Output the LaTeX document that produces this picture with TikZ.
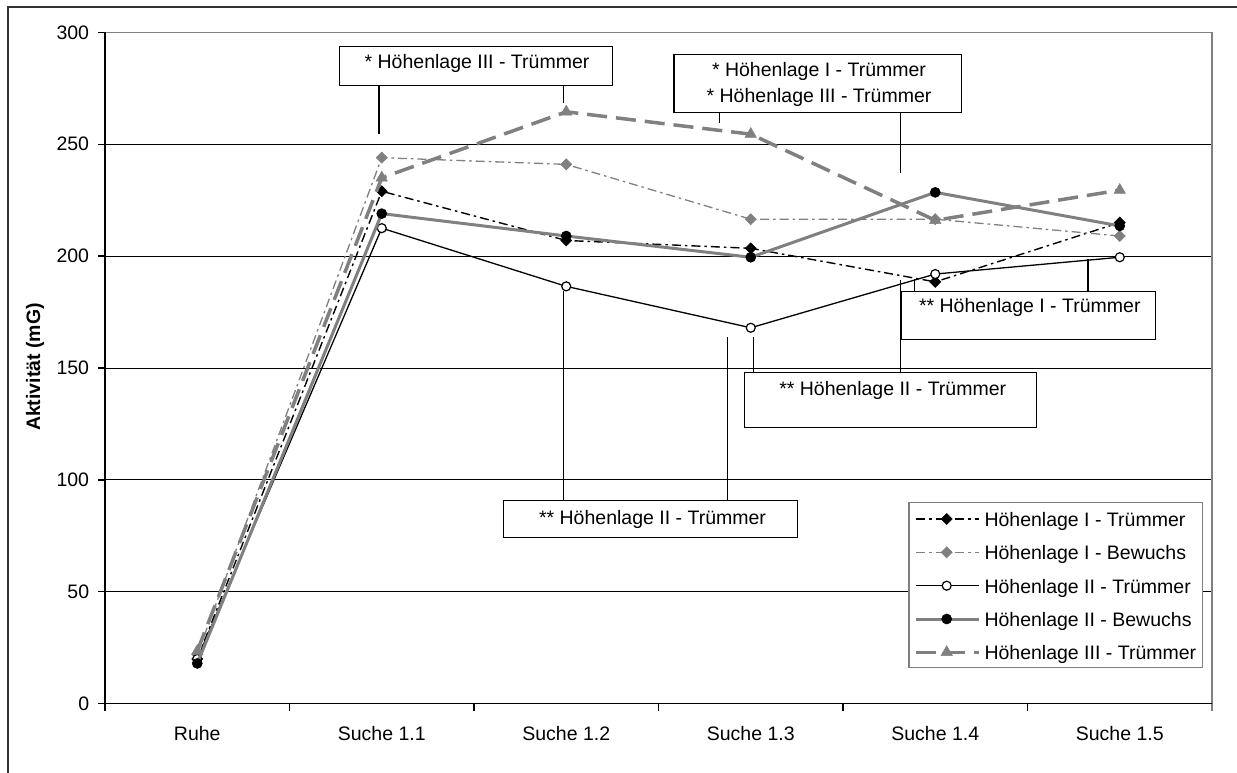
\documentclass[tikz,border=0pt]{standalone}
\usepackage{fontspec}
\setmainfont{Liberation Sans}
\usetikzlibrary{plotmarks}
\definecolor{cgray}{RGB}{128,128,128}
\definecolor{framec}{RGB}{51,51,51}
\tikzset{
  axisline/.style={black, line width=1.3pt},
  gridline/.style={black, line width=1pt},
  cbox/.style={draw=black, line width=1.3pt, fill=white, inner sep=0pt},
  leader/.style={black, line width=1.3pt},
  txt/.style={inner sep=0pt, anchor=base},
  s1/.style={black, line width=1.4pt, dash pattern=on 9pt off 4pt on 2.5pt off 4pt},
  s2/.style={cgray, line width=1.3pt, dash pattern=on 9pt off 4pt on 2.5pt off 4pt},
  s3/.style={black, line width=1.3pt},
  s4/.style={cgray, line width=3pt},
  s5/.style={cgray, line width=3.5pt, dash pattern=on 20pt off 9pt},
  m1/.style={mark=square*, mark size=3.9pt, mark options={solid, rotate=45, fill=black, draw=black, line width=0.6pt}},
  m2/.style={mark=square*, mark size=3.9pt, mark options={solid, rotate=45, fill=cgray, draw=cgray, line width=0.6pt}},
  m3/.style={mark=*, mark size=4.5pt, mark options={solid, fill=white, draw=black, line width=1.2pt}},
  m4/.style={mark=*, mark size=5pt, mark options={solid, fill=black, draw=black, line width=0.6pt}},
  m5/.style={mark=triangle*, mark size=6.5pt, mark options={solid, fill=cgray, draw=cgray, line width=0.6pt}},
}
\begin{document}
\begin{tikzpicture}[x=1pt, y=-1pt, font=\fontsize{19.5}{23}\selectfont]
\useasboundingbox (0,0) rectangle (1237,773);
\fill[white] (0,0) rectangle (1237,773);
% outer chart frame
\draw[framec, line width=1.6pt] (8,773) -- (8,7) -- (1237,7);

% data scope: y in data units (mG)
\begin{scope}[shift={(0,703.7)}, y=2.2378pt]
  \foreach \v in {50,100,150,200,250} \draw[gridline] (105,\v) -- (1212,\v);
  \draw[cgray, line width=1.3pt] (105,300) -- (1212,300) -- (1212,0) -- (1212,-3.13);
  \draw[axisline] (105,300) -- (105,0) -- (1212,0);
  \foreach \v in {0,50,...,300} \draw[axisline] (98,\v) -- (105,\v);
  \foreach \i in {0,...,5} \draw[axisline] ({105+184.5*\i},0) -- ({105+184.5*\i},-3.13);

  % series
  \draw[s1, m1] plot coordinates {(197.25,20) (381.75,229) (566.25,207) (750.75,203.5) (935.25,188.5) (1119.75,215)};
  \draw[s2, m2] plot coordinates {(197.25,22) (381.75,244) (566.25,241) (750.75,216.5) (935.25,216.5) (1119.75,209)};
  \draw[s3, m3] plot coordinates {(197.25,20) (381.75,212.5) (566.25,186.5) (750.75,168) (935.25,192) (1119.75,199.5)};
  \draw[s4, m4] plot coordinates {(197.25,18) (381.75,219) (566.25,209) (750.75,199.5) (935.25,228.5) (1119.75,213.5)};
  \draw[s5, m5] plot coordinates {(197.25,23.5) (381.75,235) (566.25,264.5) (750.75,254.5) (935.25,216) (1119.75,229.5)};
\end{scope}

% y tick labels
\foreach \v in {0,50,...,300}
  \node[inner sep=0pt, anchor=east] (yl\v) at (89.3,{703.7-2.2378*\v}) {\v};
% y axis title
\node[rotate=90, inner sep=0pt, font=\fontsize{19.5}{23}\selectfont\bfseries] (ytitle) at (35,367) {Aktivität (mG)};
% x labels
\foreach \n/\lab [count=\i from 0] in {a/Ruhe, b/Suche 1.1, c/Suche 1.2, d/Suche 1.3, e/Suche 1.4, f/Suche 1.5}
  \node[txt] (xl\n) at ({197.25+184.5*\i},740.7) {\lab};

% leader end coordinates
\coordinate (l1a) at (379,134.3);
\coordinate (l1b) at (563.3,102.7);
\coordinate (l2a) at (719.3,123.3);
\coordinate (l2b) at (900.7,173.3);
\coordinate (l3a) at (914.7,279.4);
\coordinate (l3b) at (1088,258.8);
\coordinate (l4a) at (753.8,337);
\coordinate (l4b) at (900.3,280.4);
\coordinate (l5a) at (563.3,291);
\coordinate (l5b) at (727.3,337);

% callout boxes
\node[cbox, minimum width=273pt, minimum height=39pt] (b1) at (475.8,66.2) {};
\node[cbox, minimum width=287.7pt, minimum height=58pt] (b2) at (817.85,83.3) {};
\node[cbox, minimum width=254.5pt, minimum height=48pt] (b3) at (1028.25,315.35) {};
\node[cbox, minimum width=292.2pt, minimum height=55pt] (b4) at (890.5,400.2) {};
\node[cbox, minimum width=294pt, minimum height=36.6pt] (b5) at (650.7,519) {};

\draw[leader] (b1.south -| l1a) -- (l1a);
\draw[leader] (b1.south -| l1b) -- (l1b);
\draw[leader] (b2.south -| l2a) -- (l2a);
\draw[leader] (b2.south -| l2b) -- (l2b);
\draw[leader] (b3.north -| l3a) -- (l3a);
\draw[leader] (b3.north -| l3b) -- (l3b);
\draw[leader] (b4.north -| l4a) -- (l4a);
\draw[leader] (b4.north -| l4b) -- (l4b);
\draw[leader] (b5.north -| l5a) -- (l5a);
\draw[leader] (b5.north -| l5b) -- (l5b);

\node[txt] (t1) at (477,69) {* Höhenlage III - Trümmer};
\node[txt] (t2a) at (819,76.7) {* Höhenlage I - Trümmer};
\node[txt] (t2b) at (819,102.7) {* Höhenlage III - Trümmer};
\node[txt] (t3) at (1029.8,312.3) {** Höhenlage I - Trümmer};
\node[txt] (t4) at (892.7,395.7) {** Höhenlage II - Trümmer};
\node[txt] (t5) at (652.5,524) {** Höhenlage II - Trümmer};

% legend
\node[draw=cgray, line width=1.2pt, fill=white, minimum width=293.7pt, minimum height=164.6pt, inner sep=0pt] (leg) at (1055.85,585) {};
\draw[s1] (916,519) -- (979,519);
\path[m1] plot coordinates {(946.7,519)};
\node[txt, anchor=base west] (lg1) at (984.3,526.5) {Höhenlage I - Trümmer};
\draw[s2] (916,552.3) -- (979,552.3);
\path[m2] plot coordinates {(946.7,552.3)};
\node[txt, anchor=base west] (lg2) at (984.3,559.8) {Höhenlage I - Bewuchs};
\draw[s3] (916,585.7) -- (979,585.7);
\path[m3] plot coordinates {(946.7,585.7)};
\node[txt, anchor=base west] (lg3) at (984.3,593.2) {Höhenlage II - Trümmer};
\draw[s4] (916,619) -- (979,619);
\path[m4] plot coordinates {(946.7,619)};
\node[txt, anchor=base west] (lg4) at (984.3,626.5) {Höhenlage II - Bewuchs};
\draw[s5] (916,652.3) -- (979,652.3);
\path[m5] plot coordinates {(946.7,652.3)};
\node[txt, anchor=base west] (lg5) at (984.3,659.8) {Höhenlage III - Trümmer};
\end{tikzpicture}
\end{document}
